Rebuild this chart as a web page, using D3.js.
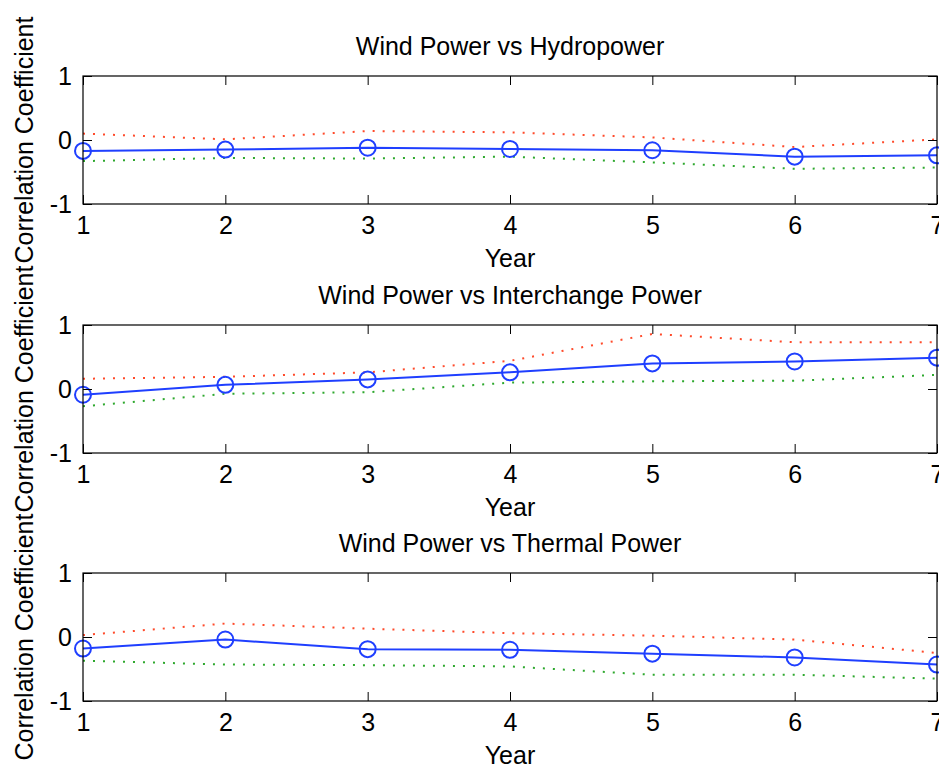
<!DOCTYPE html>
<html>
<head>
<meta charset="utf-8">
<script src="https://cdn.jsdelivr.net/npm/d3@7"></script>
<style>
  html, body { margin: 0; padding: 0; background: #fff; }
  text { font-family: "Liberation Sans", Arial, sans-serif; fill: #000; }
</style>
</head>
<body>
<div id="chart"></div>
<script>
// data
const years = [1, 2, 3, 4, 5, 6, 7];
const yTicks = [-1, 0, 1];
const titles = ["Wind Power vs Hydropower", "Wind Power vs Interchange Power", "Wind Power vs Thermal Power"];

const hydroCorr  = [-0.17, -0.15, -0.12, -0.14, -0.16, -0.26, -0.24];
const hydroUpper = [0.10, 0.01, 0.14, 0.12, 0.04, -0.11, 0.01];
const hydroLower = [-0.33, -0.28, -0.29, -0.26, -0.35, -0.45, -0.43];

const interCorr  = [-0.09, 0.065, 0.15, 0.26, 0.40, 0.43, 0.49];
const interUpper = [0.16, 0.19, 0.26, 0.44, 0.86, 0.73, 0.73];
const interLower = [-0.27, -0.075, -0.05, 0.10, 0.12, 0.13, 0.22];

const thermalCorr  = [-0.18, -0.04, -0.19, -0.20, -0.26, -0.32, -0.43];
const thermalUpper = [0.03, 0.21, 0.13, 0.06, 0.02, -0.04, -0.25];
const thermalLower = [-0.37, -0.43, -0.44, -0.46, -0.59, -0.59, -0.65];

const panels = [
  { title: titles[0], corr: hydroCorr, upper: hydroUpper, lower: hydroLower },
  { title: titles[1], corr: interCorr, upper: interUpper, lower: interLower },
  { title: titles[2], corr: thermalCorr, upper: thermalUpper, lower: thermalLower }
];

const width = 939;
const height = 765;
const left = 83;
const right = 937;
const panelTops = [76, 325, 573];
const panelHeight = 128;
const fontSize = 25;
const tickLen = 9;
const blue = "#1f3fff";
const red = "#ff4a2a";
const green = "#2ea82e";

const svg = d3.select("#chart").append("svg")
  .attr("width", width)
  .attr("height", height);

const x = d3.scaleLinear().domain([1, 7]).range([left, right]);

function styleAxis(g) {
  g.select(".domain").remove();
  g.selectAll("line").attr("stroke", "#000").attr("stroke-width", 1);
  g.selectAll("text").attr("font-size", fontSize).attr("fill", "#000")
    .attr("font-family", '"Liberation Sans", Arial, sans-serif');
}

function drawPanel(p, top) {
  const bottom = top + panelHeight;
  const y = d3.scaleLinear().domain([-1, 1]).range([bottom, top]);
  const g = svg.append("g");

  // bounds (dotted)
  const line = d3.line().x((d, i) => x(years[i])).y(d => y(d));
  g.append("path").datum(p.upper)
    .attr("d", line).attr("fill", "none")
    .attr("stroke", red).attr("stroke-width", 2).attr("stroke-dasharray", "2 8");
  g.append("path").datum(p.lower)
    .attr("d", line).attr("fill", "none")
    .attr("stroke", green).attr("stroke-width", 2).attr("stroke-dasharray", "2 8");

  // correlation coefficient
  g.append("path").datum(p.corr)
    .attr("d", line).attr("fill", "none")
    .attr("stroke", blue).attr("stroke-width", 2);
  g.selectAll(".marker")
    .data(p.corr)
    .enter().append("circle")
    .attr("class", "marker")
    .attr("cx", (d, i) => x(years[i]))
    .attr("cy", d => y(d))
    .attr("r", 8)
    .attr("fill", "none")
    .attr("stroke", blue)
    .attr("stroke-width", 2);

  // box
  g.append("rect")
    .attr("x", left).attr("y", top)
    .attr("width", right - left).attr("height", panelHeight)
    .attr("fill", "none").attr("stroke", "#000").attr("stroke-width", 1.2);

  // axes, ticks pointing inside
  g.append("g").attr("transform", `translate(0,${bottom})`)
    .call(d3.axisBottom(x).tickValues(years).tickFormat(d3.format("d"))
      .tickSizeInner(-tickLen).tickSizeOuter(0).tickPadding(12))
    .call(styleAxis);
  g.append("g").attr("transform", `translate(0,${top})`)
    .call(d3.axisTop(x).tickValues(years).tickFormat("")
      .tickSizeInner(-tickLen).tickSizeOuter(0))
    .call(styleAxis);
  g.append("g").attr("transform", `translate(${left},0)`)
    .call(d3.axisLeft(y).tickValues(yTicks).tickFormat(d3.format("d"))
      .tickSizeInner(-tickLen).tickSizeOuter(0).tickPadding(11))
    .call(styleAxis);
  g.append("g").attr("transform", `translate(${right},0)`)
    .call(d3.axisRight(y).tickValues(yTicks).tickFormat("")
      .tickSizeInner(-tickLen).tickSizeOuter(0))
    .call(styleAxis);
  g.selectAll(".tick text").text(function () { return this.textContent.replace("\u2212", "-"); });

  // labels
  g.append("text")
    .attr("x", (left + right) / 2).attr("y", top - 21)
    .attr("text-anchor", "middle").attr("font-size", fontSize)
    .text(p.title);
  g.append("text")
    .attr("x", (left + right) / 2).attr("y", bottom + 63)
    .attr("text-anchor", "middle").attr("font-size", fontSize)
    .text("Year");
  g.append("text")
    .attr("transform", `translate(33,${top + panelHeight / 2}) rotate(-90)`)
    .attr("text-anchor", "middle").attr("font-size", fontSize)
    .text("Correlation Coefficient");
}

panels.forEach((p, i) => drawPanel(p, panelTops[i]));
</script>
</body>
</html>
